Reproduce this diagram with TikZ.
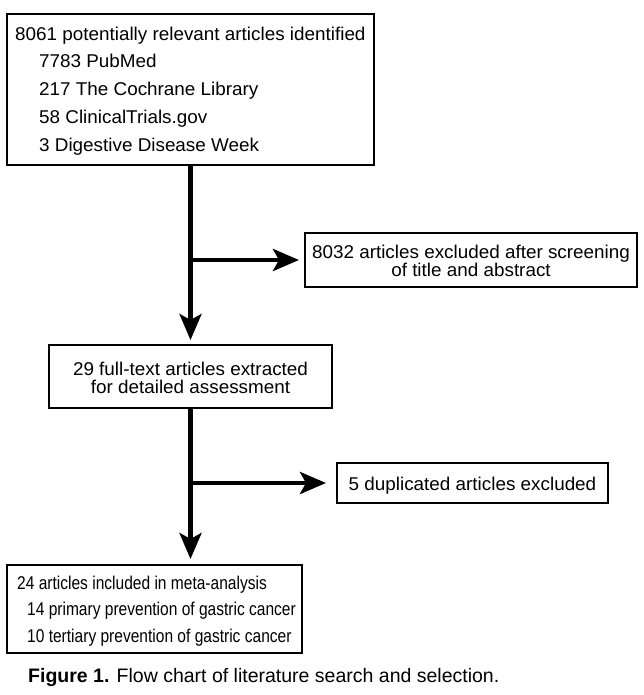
\documentclass[tikz,border=0pt]{standalone}
\usepackage{fontspec}
\setmainfont{Liberation Sans}
\newfontfamily\wfont[FakeStretch=1.02]{Liberation Sans}
\newfontfamily\nfont[FakeStretch=0.84]{Liberation Sans}
\usetikzlibrary{arrows.meta}
\begin{document}
\begin{tikzpicture}[x=1pt,y=-1pt,
  boxn/.style={draw=black,line width=2pt,inner sep=0pt,outer sep=0pt},
  txt/.style={inner sep=0pt,font=\wfont\fontsize{18.5}{18.5}\selectfont},
  ntxt/.style={inner sep=0pt,font=\nfont\fontsize{18.5}{18.5}\selectfont},
  arr/.style={line width=4.5pt,-{Stealth[length=26pt,width=22pt,inset=6pt]}}]
\useasboundingbox (0,0) rectangle (644,695);
\fill[white] (0,0) rectangle (644,695);
% boxes
\node[boxn,minimum width=367pt,minimum height=151pt,anchor=north west] (b1) at (7,14) {};
\node[boxn,minimum width=332pt,minimum height=54pt,anchor=north west] (b2) at (305,233) {};
\node[boxn,minimum width=283pt,minimum height=63pt,anchor=north west] (b3) at (49,345) {};
\node[boxn,minimum width=271pt,minimum height=40pt,anchor=north west] (b4) at (337,463) {};
\node[boxn,minimum width=295pt,minimum height=88pt,anchor=north west] (b5) at (7,565) {};
% texts box 1
\node[txt,anchor=base west] (t11) at (15,41) {8061 potentially relevant articles identified};
\node[txt,anchor=base west] (t12) at (39,68) {7783 PubMed};
\node[txt,anchor=base west] (t13) at (39,96) {217 The Cochrane Library};
\node[txt,anchor=base west] (t14) at (39,124) {58 ClinicalTrials.gov};
\node[txt,anchor=base west] (t15) at (39,152) {3 Digestive Disease Week};
% box 2
\node[txt,anchor=base] (t21) at (471,258) {8032 articles excluded after screening};
\node[txt,anchor=base] (t22) at (471,276) {of title and abstract};
% box 3
\node[txt,anchor=base] (t31) at (190.5,375) {29 full-text articles extracted};
\node[txt,anchor=base] (t32) at (190.5,393) {for detailed assessment};
% box 4
\node[txt,anchor=base] (t41) at (472.5,490) {5 duplicated articles excluded};
% box 5
\node[ntxt,anchor=base west] (t51) at (17,589) {24 articles included in meta-analysis};
\node[ntxt,anchor=base west] (t52) at (27,615) {14 primary prevention of gastric cancer};
\node[ntxt,anchor=base west] (t53) at (27,642) {10 tertiary prevention of gastric cancer};
% caption
\node[inner sep=0pt,anchor=base west,font=\fontsize{19.5}{20}\selectfont] (cap) at (28,682) {\textbf{Figure 1.} Flow chart of literature search and selection.};
% connectors
\coordinate (j1) at (191,260);
\coordinate (j2) at (191,483);
\draw[arr,shorten >=5pt] (b1.south) -- (b3.north);
\draw[arr,shorten >=6pt] (j1) -- (j1 -| b2.west);
\draw[arr,shorten >=6pt] (b3.south) -- (b3.south |- b5.north);
\draw[arr,shorten >=11pt] (j2) -- (j2 -| b4.west);
\end{tikzpicture}
\end{document}
